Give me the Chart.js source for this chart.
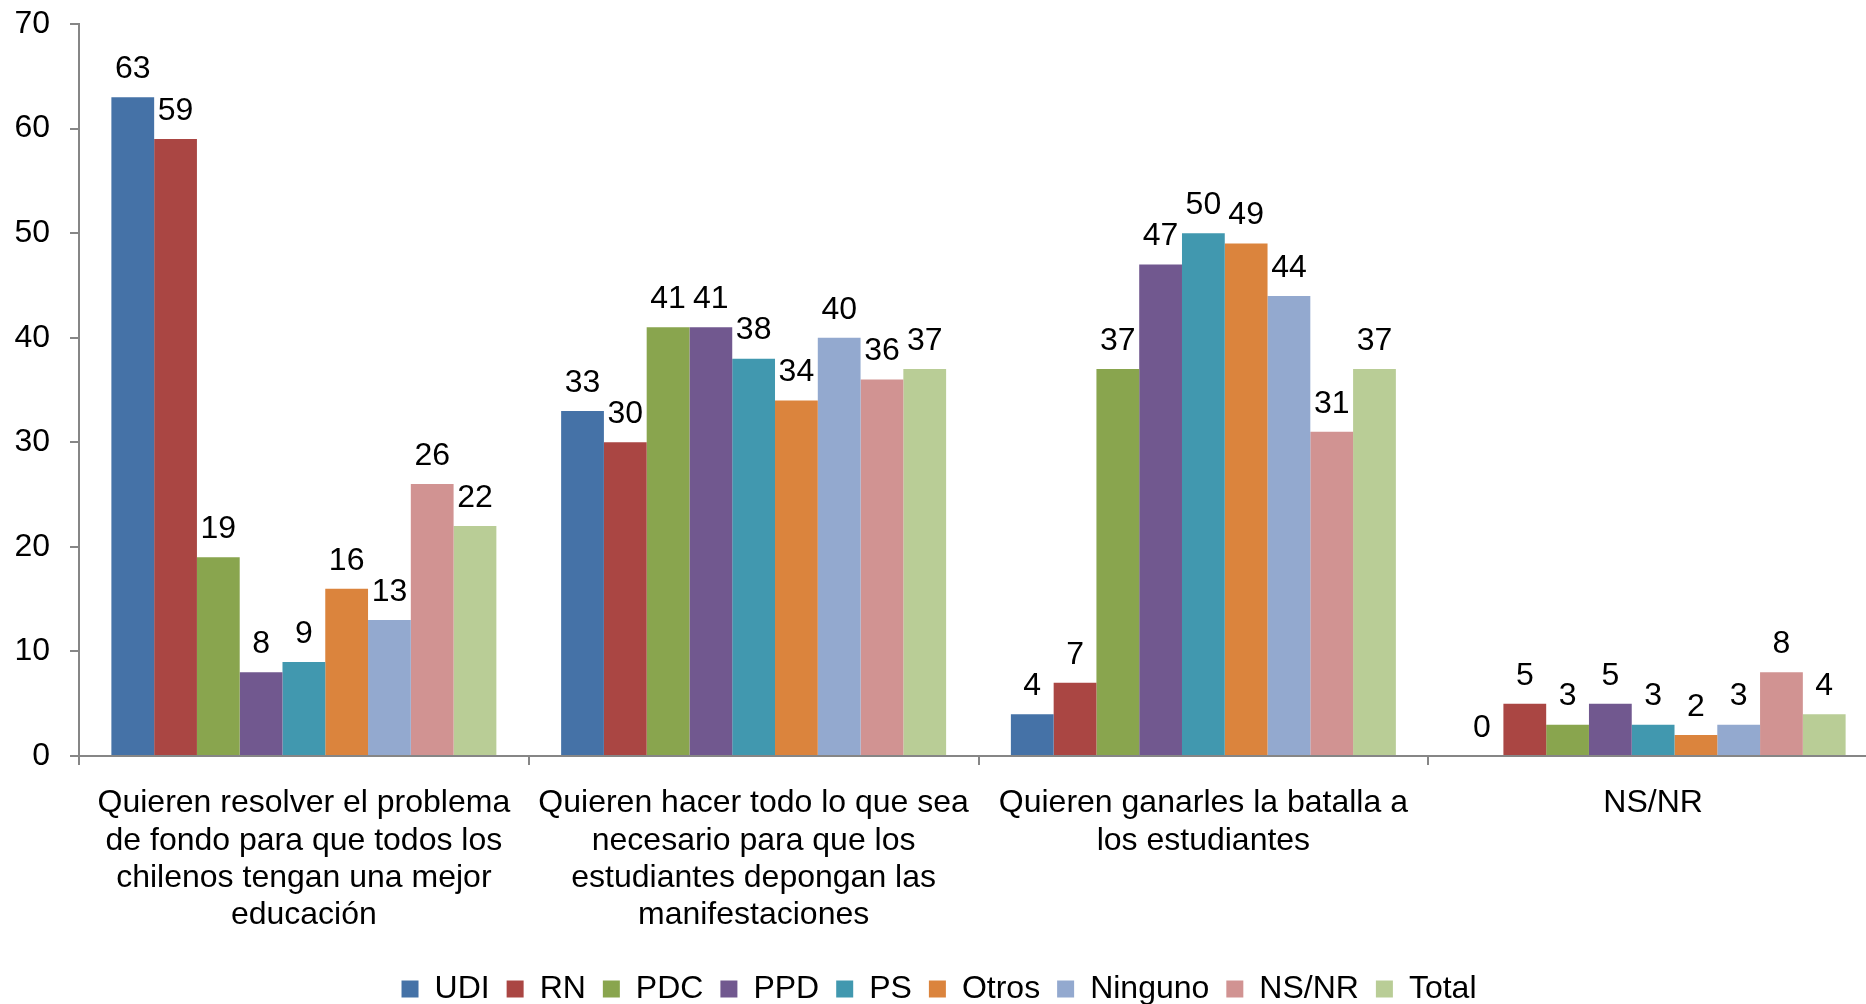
<!DOCTYPE html>
<html>
<head>
<meta charset="utf-8">
<script src="https://cdn.jsdelivr.net/npm/chart.js@4/dist/chart.umd.min.js"></script>
<style>
  html, body { margin: 0; padding: 0; background: #fff; overflow: hidden; }
  #wrap { width: 1880px; height: 1015px; }
</style>
</head>
<body>
<div id="wrap"><canvas id="chart"></canvas></div>
<script>
// categories (multi-line labels as in the original)
const categories = [
    ['Quieren resolver el problema', 'de fondo para que todos los', 'chilenos tengan una mejor', 'educación'],
    ['Quieren hacer todo lo que sea', 'necesario para que los', 'estudiantes depongan las', 'manifestaciones'],
    ['Quieren ganarles la batalla a', 'los estudiantes'],
    ['NS/NR'],
];

const seriesNames = ['UDI', 'RN', 'PDC', 'PPD', 'PS', 'Otros', 'Ninguno', 'NS/NR', 'Total'];
const seriesColors = ['#4572A7', '#AA4643', '#89A54E', '#71588F', '#4198AF', '#DB843D', '#93A9CF', '#D19392', '#B9CD96'];

const udi = [63, 33, 4, 0];
const rn = [59, 30, 7, 5];
const pdc = [19, 41, 37, 3];
const ppd = [8, 41, 47, 5];
const ps = [9, 38, 50, 3];
const otros = [16, 34, 49, 2];
const ninguno = [13, 40, 44, 3];
const nsnr = [26, 36, 31, 8];
const total = [22, 37, 37, 4];

const seriesValues = [udi, rn, pdc, ppd, ps, otros, ninguno, nsnr, total];

const FONT = 'Arial, "Liberation Sans", sans-serif';
const AXIS = '#868686';

// draws the value above each bar
const valueLabels = {
    id: 'valueLabels',
    afterDatasetsDraw(chart) {
        const ctx = chart.ctx;
        ctx.save();
        ctx.font = '32px ' + FONT;
        ctx.fillStyle = '#000';
        ctx.textAlign = 'center';
        ctx.textBaseline = 'middle';
        chart.data.datasets.forEach((ds, i) => {
            const meta = chart.getDatasetMeta(i);
            meta.data.forEach((bar, j) => {
                ctx.fillText(String(ds.data[j]), bar.x, bar.y - 28);
            });
        });
        ctx.restore();
    }
};

const createChart = () => {
    const datasets = seriesNames.map((name, i) => ({
        label: name,
        data: seriesValues[i],
        backgroundColor: seriesColors[i],
        borderWidth: 0,
        categoryPercentage: 0.856,
        barPercentage: 1.0,
    }));

    const config = {
        type: 'bar',
        data: { labels: categories, datasets },
        options: {
            responsive: true,
            maintainAspectRatio: false,
            animation: false,
            layout: { padding: { top: 24, right: 2, left: 0, bottom: 0 } },
            plugins: {
                tooltip: { enabled: false },
                legend: {
                    position: 'bottom',
                    labels: {
                        color: '#000',
                        font: { family: FONT, size: 32 },
                        boxWidth: 17,
                        boxHeight: 17,
                        padding: 17,
                    },
                },
            },
            scales: {
                x: {
                    grid: {
                        display: true,
                        drawOnChartArea: false,
                        drawTicks: true,
                        tickLength: 9,
                        color: AXIS,
                        lineWidth: 2,
                    },
                    border: { display: true, color: AXIS, width: 2 },
                    ticks: {
                        color: '#000',
                        font: { family: FONT, size: 32, lineHeight: 1.16 },
                        padding: 20,
                        maxRotation: 0,
                        autoSkip: false,
                    },
                    afterFit: (scale) => {
                        scale.height = 200;
                        scale.paddingLeft = 0;
                        scale.paddingRight = 0;
                    },
                },
                y: {
                    min: 0,
                    max: 70,
                    ticks: {
                        stepSize: 10,
                        color: '#000',
                        font: { family: FONT, size: 32 },
                        padding: 20,
                    },
                    grid: {
                        display: true,
                        drawOnChartArea: false,
                        drawTicks: true,
                        tickLength: 9,
                        color: AXIS,
                        lineWidth: 2,
                    },
                    border: { display: true, color: AXIS, width: 2 },
                    afterFit: (scale) => {
                        scale.width = 79;
                        scale.paddingTop = 0;
                        scale.paddingBottom = 0;
                    },
                },
            },
        },
        plugins: [valueLabels],
    };

    new Chart(document.getElementById('chart'), config);
};

window.onload = () => {
    createChart();
};
</script>
</body>
</html>
